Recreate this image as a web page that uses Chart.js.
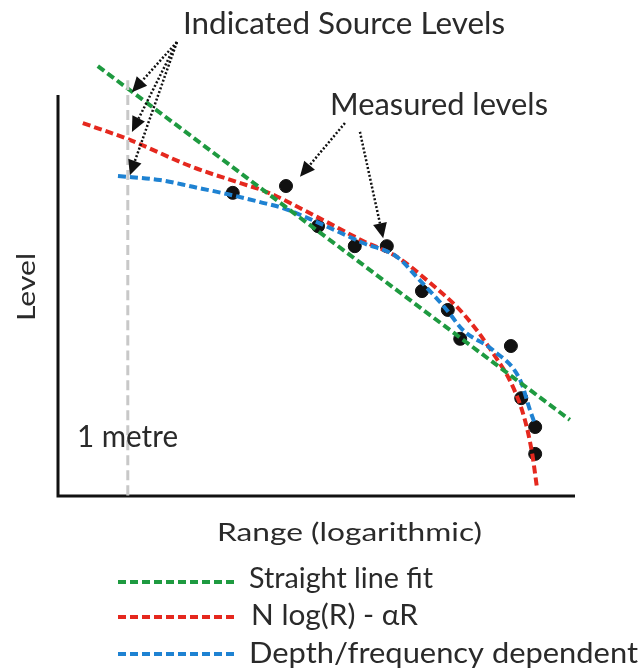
<!DOCTYPE html>
<html>
<head>
<meta charset="utf-8">
<title>Source level fits</title>
<script src="https://cdn.jsdelivr.net/npm/chart.js@4/dist/chart.umd.min.js"></script>
<style>
  html, body { margin: 0; padding: 0; background: #fff; }
  canvas { display: block; }
</style>
</head>
<body>
<canvas id="levelChart" width="641" height="671"></canvas>
<script>
// axis units: range 0..100 across the x axis, level 0..100 up the y axis
const straightFit = [[7.7, 107.2], [99.0, 19.0]];
const nLogFit = [[4.8, 93.0], [13.5, 89.0], [26.1, 82.0], [34.6, 78.3], [40.4, 75.8], [50.1, 69.6],
  [59.0, 63.6], [65.6, 59.6], [72.0, 53.1], [78.3, 45.6], [84.1, 35.7], [88.0, 27.2],
  [90.3, 19.0], [91.7, 10.7], [92.6, 2.5]];
const depthFit = [[11.6, 79.8], [19.7, 78.8], [26.1, 77.1], [32.7, 75.3], [39.1, 73.3], [43.5, 71.8],
  [50.1, 68.3], [59.0, 63.1], [65.6, 59.6], [69.4, 54.6], [75.2, 46.4], [78.3, 41.4],
  [84.1, 36.4], [89.4, 28.9], [91.3, 21.4], [92.1, 18.5]];
const measuredX = [33.8, 44.1, 50.3, 57.4, 63.6, 70.4, 75.4, 77.8, 87.6, 89.6, 92.3, 92.3];
const measuredY = [75.6, 77.3, 67.3, 62.3, 62.3, 51.1, 46.4, 39.2, 37.4, 24.4, 17.2, 10.5];
const oneMetre = [[13.5, 103.7], [13.5, 0]];

// dotted pointer arrows: first entry is the shared start, then the tips
const sourceArrows = [[23.0, 113.2], [14.3, 100.7], [14.3, 90.8], [13.9, 80.0]];
const measuredArrows = [[55.5, 93.0, 46.8, 79.6], [58.4, 90.8, 62.9, 64.3]];

const legendItems = [
  ["Straight line fit", "#1e9a40"],
  ["N log(R) - \u03b1R", "#e5281e"],
  ["Depth/frequency dependent", "#1e82d2"],
];

const toXY = (pairs) => pairs.map(([x, y]) => ({ x, y }));

function fitText(ctx, text, x, y, width, size, rot) {
  ctx.save();
  ctx.font = `${size}px Lato`;
  const m = ctx.measureText(text).width;
  ctx.translate(x, y);
  if (rot) ctx.rotate(rot);
  ctx.scale(width / m, 1);
  ctx.fillText(text, 0, 0);
  ctx.restore();
}

function arrow(ctx, x1, y1, x2, y2) {
  const ang = Math.atan2(y2 - y1, x2 - x1);
  const headLen = 15, headW = 7;
  const bx = x2 - Math.cos(ang) * headLen;
  const by = y2 - Math.sin(ang) * headLen;
  ctx.save();
  ctx.strokeStyle = "#111";
  ctx.lineWidth = 2.5;
  ctx.setLineDash([2, 2]);
  ctx.beginPath();
  ctx.moveTo(x1, y1);
  ctx.lineTo(bx, by);
  ctx.stroke();
  ctx.setLineDash([]);
  ctx.fillStyle = "#111";
  ctx.beginPath();
  ctx.moveTo(x2, y2);
  ctx.lineTo(bx - Math.sin(ang) * headW, by + Math.cos(ang) * headW);
  ctx.lineTo(bx + Math.sin(ang) * headW, by - Math.cos(ang) * headW);
  ctx.closePath();
  ctx.fill();
  ctx.restore();
}

const decorPlugin = {
  id: "decor",
  beforeDatasetsDraw(chart) {
    const { ctx, chartArea: a } = chart;
    ctx.save();
    ctx.strokeStyle = "#111";
    ctx.lineWidth = 3;
    ctx.beginPath();
    ctx.moveTo(a.left, a.top);
    ctx.lineTo(a.left, a.bottom);
    ctx.lineTo(a.right, a.bottom);
    ctx.stroke();
    ctx.restore();
  },
  afterDraw(chart) {
    const { ctx } = chart;
    const xs = chart.scales.x, ys = chart.scales.y;
    const px = (v) => xs.getPixelForValue(v), py = (v) => ys.getPixelForValue(v);

    const [from, ...tips] = sourceArrows;
    tips.forEach(([tx, ty]) => arrow(ctx, px(from[0]), py(from[1]), px(tx), py(ty)));
    measuredArrows.forEach(([fx, fy, tx, ty]) => arrow(ctx, px(fx), py(fy), px(tx), py(ty)));

    ctx.save();
    ctx.fillStyle = "#2a2a2a";
    ctx.textBaseline = "alphabetic";
    fitText(ctx, "Indicated Source Levels", 183, 34, 322, 31);
    fitText(ctx, "Measured levels", 330, 115, 218, 30);
    fitText(ctx, "1 metre", 77, 447, 101, 31);
    fitText(ctx, "Level", 35, 321, 68, 25, -Math.PI / 2);
    fitText(ctx, "Range (logarithmic)", 217, 541, 265, 25);

    const rowsY = [582, 617, 654];
    legendItems.forEach(([label, color], i) => {
      const y = rowsY[i];
      ctx.save();
      ctx.strokeStyle = color;
      ctx.lineWidth = 4;
      ctx.setLineDash([8, 4]);
      ctx.beginPath();
      ctx.moveTo(118, y);
      ctx.lineTo(235, y);
      ctx.stroke();
      ctx.restore();
    });
    fitText(ctx, legendItems[0][0], 249, 588, 184, 29);
    fitText(ctx, legendItems[1][0], 251, 625, 167, 29);
    fitText(ctx, legendItems[2][0], 249, 663, 389, 29);
    ctx.restore();
  },
};

const lineStyle = (color) => ({
  type: "line",
  borderColor: color,
  borderWidth: 4,
  borderDash: [8, 4],
  pointRadius: 0,
  fill: false,
  clip: false,
  cubicInterpolationMode: "monotone",
});

new Chart(document.getElementById("levelChart"), {
  type: "scatter",
  data: {
    datasets: [
      { ...lineStyle("#c8c8c8"), data: toXY(oneMetre), borderWidth: 3, borderDash: [10, 5] },
      { ...lineStyle(legendItems[0][1]), data: toXY(straightFit) },
      { ...lineStyle(legendItems[2][1]), data: toXY(depthFit) },
      { ...lineStyle(legendItems[1][1]), data: toXY(nLogFit) },
      {
        type: "scatter",
        data: measuredX.map((x, i) => ({ x, y: measuredY[i] })),
        backgroundColor: "#111",
        borderColor: "#111",
        pointRadius: 6.5,
        clip: false,
      },
    ],
  },
  options: {
    responsive: false,
    animation: false,
    layout: { padding: { left: 58, top: 95, right: 66, bottom: 175 } },
    plugins: { legend: { display: false }, tooltip: { enabled: false } },
    scales: {
      x: { type: "linear", min: 0, max: 100, display: false },
      y: { type: "linear", min: 0, max: 100, display: false },
    },
  },
  plugins: [decorPlugin],
});
</script>
</body>
</html>
